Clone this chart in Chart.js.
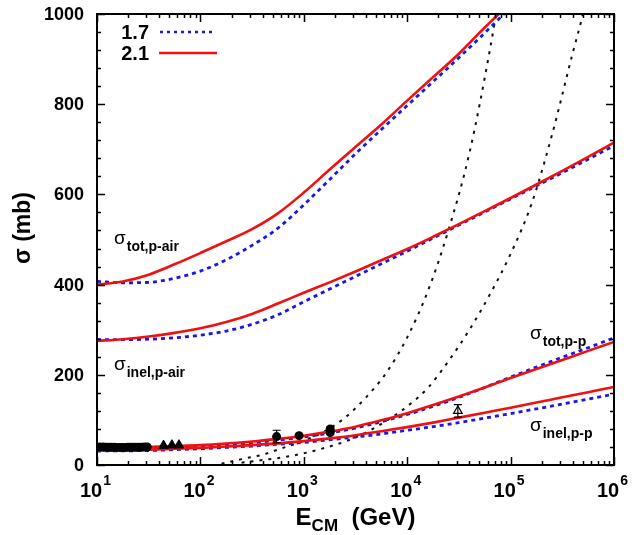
<!DOCTYPE html>
<html>
<head>
<meta charset="utf-8">
<script src="https://cdn.jsdelivr.net/npm/chart.js@4.4.0/dist/chart.umd.min.js"></script>
<style>
  body { margin: 0; background: #fff; }
  #wrap { width: 634px; height: 535px; }
</style>
</head>
<body>
<div id="wrap"><canvas id="chart" width="634" height="535"></canvas></div>
<script>
/* ---------- model curves, sigma (mb) vs E_CM (GeV), quarter-decade grid ---------- */
const energy = [10, 17.8, 31.6, 56.2, 100, 178, 316, 562, 1000, 1778, 3162, 5623,
  10000, 17783, 31623, 56234, 100000, 177828, 316228, 562341, 1000000];
const totAir21 = [400, 407, 422, 445, 470, 496, 523, 558, 604, 655, 705, 755,
  808, 860, 912, 970, 1025, 1080, 1140, 1200, 1260];
const totAir17 = [407, 404, 405, 414, 430, 455, 487, 525, 577, 633, 690, 744,
  797, 850, 903, 958, 1015, 1070, 1130, 1190, 1250];
const inelAir21 = [275, 279, 285, 293, 303, 317, 335, 358, 382, 405, 429, 454,
  479, 506, 534, 563, 592, 622, 652, 683, 715];
const inelAir17 = [278, 278, 279, 282, 288, 297, 312, 333, 362, 390, 418, 446,
  474, 503, 532, 561, 590, 619, 648, 678, 708];
const totPP21 = [39, 39, 40, 42, 44, 47.5, 52, 58, 65, 74, 85, 99,
  115, 133, 152, 172, 193, 213, 233, 253, 273];
const totPP17 = [38, 38, 39, 40, 41, 44.5, 49, 55, 62, 71, 82, 96,
  112, 130, 150, 172, 195, 217, 239, 260, 282];
const inelPP21 = [32, 33, 34, 36, 38, 41, 44, 48, 53, 59, 66, 75,
  84, 94, 105, 116, 127, 138.5, 150, 161.5, 173];
const inelPP17 = [31, 31.5, 32, 34, 36, 39, 42, 46, 50, 56, 62, 69,
  77, 85, 94, 104, 114, 124.5, 135, 146, 157];

/* ---------- black dashed curves ---------- */
const dashAE = [160, 250, 400, 630, 1000, 1600, 2500, 4000, 6300, 10000, 16000, 25000, 40000, 63000, 80000];
const dashAV = [3, 13, 23, 38, 54, 75, 105, 150, 205, 283, 388, 520, 692, 920, 1060];
const dashBE = [250, 400, 630, 1000, 1600, 2500, 4000, 6300, 10000, 16000, 25000, 40000, 63000, 100000, 160000, 250000, 400000, 500000, 630000];
const dashBV = [5, 11, 17, 26, 38, 52, 72, 98, 130, 172, 230, 300, 378, 468, 580, 730, 915, 1000, 1120];

/* ---------- measurements ---------- */
const lowE = [10.6, 11.5, 12.3, 13.0, 13.8, 14.7, 15.6, 16.6, 17.6, 18.7, 19.9, 21.2, 22.5, 23.9, 25.4, 27.0, 28.7, 30.6];
const lowV = [40, 39.8, 39.6, 39.4, 39.2, 39.1, 39.0, 39.0, 39.0, 39.0, 39.1, 39.2, 39.3, 39.4, 39.5, 39.6, 39.8, 40];
const triE = [44, 53, 62];
const triV = [43, 44, 44];
const colE = [546, 900, 1800, 1800];
const colV = [63, 65, 72, 80];
const colErr = [14, 3, 4, 4];
const airE = [30900];
const airV = [120];
const airErr = [14];

const RED = "rgb(240, 16, 16)";
const BLUE = "rgb(24, 24, 225)";
const FONT = "'Liberation Sans', Arial, Helvetica, sans-serif";

const pts = (xs, ys) => xs.map((x, i) => ({ x: x, y: ys[i] }));

const lineSet = (ys, color, dotted) => ({
  data: pts(energy, ys),
  borderColor: color,
  borderWidth: dotted ? 2.8 : 2.6,
  borderDash: dotted ? [4, 4] : [],
  pointRadius: 0,
  cubicInterpolationMode: "monotone",
  fill: false,
});

const dashSet = (xs, ys) => ({
  data: pts(xs, ys),
  borderColor: "#111",
  borderWidth: 2,
  borderDash: [3, 6],
  pointRadius: 0,
  cubicInterpolationMode: "monotone",
  fill: false,
});

/* ---------- frame, ticks, labels, error bars ---------- */
const decor = {
  id: "decor",
  afterDatasetsDraw(chart) {
    const ctx = chart.ctx;
    const x = chart.scales.x, y = chart.scales.y;
    // error bars
    ctx.save();
    ctx.strokeStyle = "#000";
    ctx.lineWidth = 1.2;
    const bars = (xs, vs, es) => xs.forEach((e, i) => {
      const px = x.getPixelForValue(e);
      const top = y.getPixelForValue(vs[i] + es[i]);
      const bot = y.getPixelForValue(vs[i] - es[i]);
      ctx.beginPath();
      ctx.moveTo(px, top); ctx.lineTo(px, bot);
      ctx.moveTo(px - 4, top); ctx.lineTo(px + 4, top);
      ctx.moveTo(px - 4, bot); ctx.lineTo(px + 4, bot);
      ctx.stroke();
    });
    bars(colE, colV, colErr);
    bars(airE, airV, airErr);
    ctx.restore();
  },
  afterDraw(chart) {
    const ctx = chart.ctx;
    const a = chart.chartArea;
    const x = chart.scales.x, y = chart.scales.y;
    ctx.save();
    ctx.strokeStyle = "#000";
    ctx.lineWidth = 1.5;
    // ticks on all four sides, pointing inward
    ctx.beginPath();
    for (let d = 1; d <= 6; d++) {
      for (let k = 1; k <= 9; k++) {
        const v = k * Math.pow(10, d);
        if (v > 1e6) break;
        const px = Math.round(x.getPixelForValue(v)) + 0.5;
        const len = k === 1 ? 8 : 4;
        ctx.moveTo(px, a.bottom); ctx.lineTo(px, a.bottom - len);
        ctx.moveTo(px, a.top); ctx.lineTo(px, a.top + len);
      }
    }
    for (let v = 0; v <= 1000; v += 40) {
      const py = Math.round(y.getPixelForValue(v)) + 0.5;
      const len = v % 200 === 0 ? 8 : 4;
      ctx.moveTo(a.left, py); ctx.lineTo(a.left + len, py);
      ctx.moveTo(a.right, py); ctx.lineTo(a.right - len, py);
    }
    ctx.stroke();
    ctx.lineWidth = 2;
    ctx.strokeRect(a.left, a.top, a.right - a.left, a.bottom - a.top);

    // y tick labels
    ctx.fillStyle = "#000";
    ctx.font = "bold 18px " + FONT;
    ctx.textAlign = "right";
    ctx.textBaseline = "middle";
    for (let v = 0; v <= 1000; v += 200) {
      ctx.fillText(String(v), a.left - 13, y.getPixelForValue(v) + 1);
    }
    // x tick labels 10^n
    ctx.textBaseline = "alphabetic";
    for (let d = 1; d <= 6; d++) {
      const px = x.getPixelForValue(Math.pow(10, d));
      ctx.font = "bold 20px " + FONT;
      const w1 = ctx.measureText("10").width;
      ctx.font = "bold 14px " + FONT;
      const w2 = ctx.measureText(String(d)).width;
      const x0 = px - (w1 + w2) / 2 - 2;
      ctx.textAlign = "left";
      ctx.font = "bold 20px " + FONT;
      ctx.fillText("10", x0, 497);
      ctx.font = "bold 14px " + FONT;
      ctx.fillText(String(d), x0 + w1 + 1, 485);
    }
    // axis titles
    ctx.font = "bold 24px " + FONT;
    const t1 = "E", t2 = "CM", t3 = "  (GeV)";
    const w1 = ctx.measureText(t1).width;
    const w3 = ctx.measureText(t3).width;
    ctx.font = "bold 17px " + FONT;
    const w2 = ctx.measureText(t2).width;
    let xs = (a.left + a.right) / 2 - (w1 + w2 + w3) / 2;
    ctx.font = "bold 24px " + FONT;
    ctx.fillText(t1, xs, 525);
    ctx.font = "bold 17px " + FONT;
    ctx.fillText(t2, xs + w1, 531);
    ctx.font = "bold 24px " + FONT;
    ctx.fillText(t3, xs + w1 + w2, 525);

    ctx.save();
    ctx.translate(30, 228);
    ctx.rotate(-Math.PI / 2);
    ctx.textAlign = "center";
    ctx.font = "bold 23px " + FONT;
    ctx.fillText("\u03c3 (mb)", 0, 0);
    ctx.restore();

    // curve labels
    const sig = (sub, px, py) => {
      ctx.textAlign = "left";
      ctx.font = "19px " + FONT;
      ctx.fillText("\u03c3", px, py);
      const w = ctx.measureText("\u03c3").width;
      ctx.font = "bold 14px " + FONT;
      ctx.fillText(sub, px + w + 1, py + 7);
    };
    sig("tot,p-air", 114, 244);
    sig("inel,p-air", 114, 370);
    sig("tot,p-p", 530, 339);
    sig("inel,p-p", 530, 431);

    // key
    ctx.font = "bold 20px " + FONT;
    ctx.textAlign = "right";
    ctx.textBaseline = "middle";
    ctx.fillText("1.7", 149, 33);
    ctx.fillText("2.1", 149, 54);
    ctx.lineWidth = 2.5;
    ctx.strokeStyle = BLUE;
    ctx.setLineDash([3, 4]);
    ctx.beginPath(); ctx.moveTo(160, 32); ctx.lineTo(215, 32); ctx.stroke();
    ctx.setLineDash([]);
    ctx.strokeStyle = RED;
    ctx.beginPath(); ctx.moveTo(159, 53); ctx.lineTo(217, 53); ctx.stroke();
    ctx.restore();
  },
};

new Chart(document.getElementById("chart"), {
  type: "line",
  data: {
    datasets: [
      {
        type: "scatter",
        data: pts(lowE, lowV).concat(pts(colE, colV)),
        pointStyle: "circle",
        pointRadius: 4.5,
        backgroundColor: "#000",
        borderColor: "#000",
        borderWidth: 0,
      },
      {
        type: "scatter",
        data: pts(triE, triV),
        pointStyle: "triangle",
        pointRadius: 5.5,
        backgroundColor: "#000",
        borderColor: "#000",
        borderWidth: 1,
      },
      {
        type: "scatter",
        data: pts(airE, airV),
        pointStyle: "triangle",
        pointRadius: 5,
        backgroundColor: "#fff",
        borderColor: "#000",
        borderWidth: 1.2,
      },
      lineSet(totAir21, RED, false),
      lineSet(inelAir21, RED, false),
      lineSet(totPP21, RED, false),
      lineSet(inelPP21, RED, false),
      lineSet(totAir17, BLUE, true),
      lineSet(inelAir17, BLUE, true),
      lineSet(totPP17, BLUE, true),
      lineSet(inelPP17, BLUE, true),
      dashSet(dashAE, dashAV),
      dashSet(dashBE, dashBV),
    ],
  },
  options: {
    responsive: false,
    animation: false,
    layout: { padding: { left: 97, right: 20, top: 14, bottom: 70 } },
    plugins: { legend: { display: false }, tooltip: { enabled: false } },
    scales: {
      x: { type: "logarithmic", min: 10, max: 1e6, display: false },
      y: { type: "linear", min: 0, max: 1000, display: false },
    },
  },
  plugins: [decor],
});
</script>
</body>
</html>
